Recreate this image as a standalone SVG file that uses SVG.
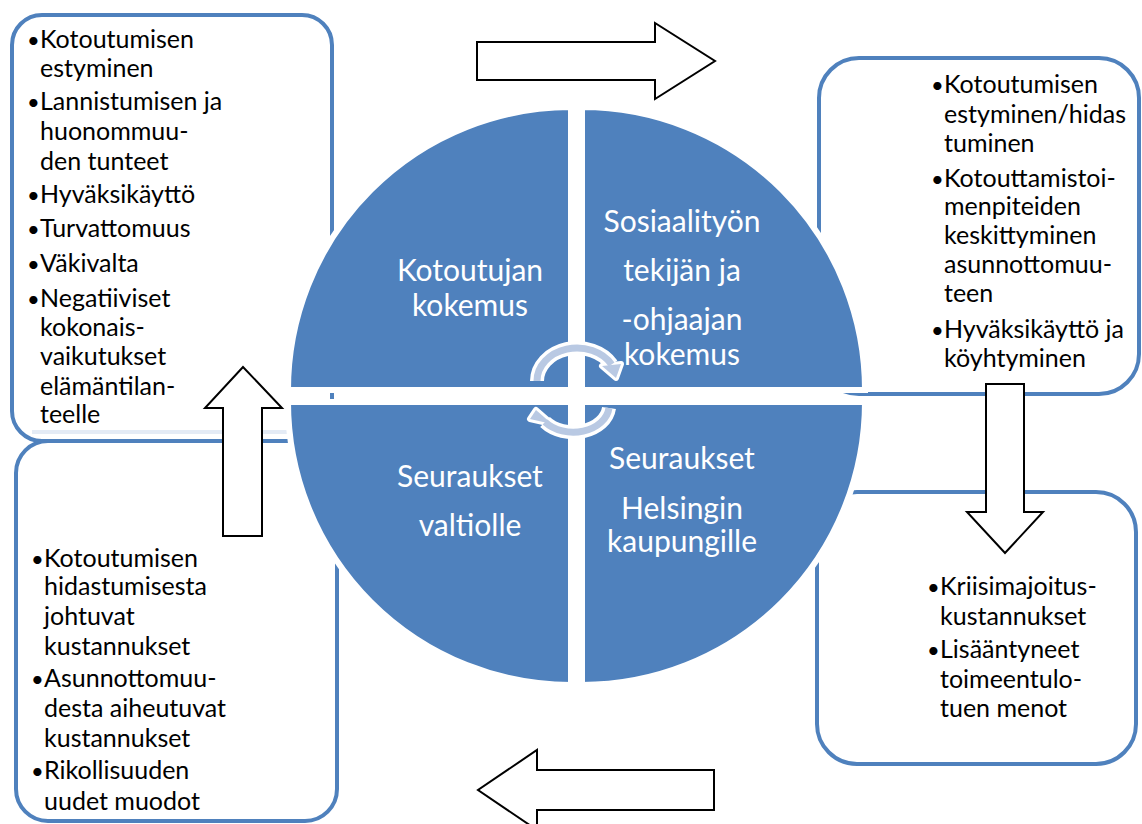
<svg xmlns="http://www.w3.org/2000/svg" width="1142" height="824" viewBox="0 0 1142 824">
<style>
.box{fill:#fff;stroke:#4F81BD;stroke-width:4}
.q{fill:#4F81BD;stroke:#fff;stroke-width:6}
.bt{font-family:Lato,"Open Sans",sans-serif;font-size:25px;fill:#000}
.b{font-size:22px}
.ct{font-family:Lato,"Open Sans",sans-serif;font-size:30px;fill:#fff;text-anchor:middle}
.blk{fill:#fff;stroke:#000;stroke-width:2;stroke-linejoin:miter}
.arcw{fill:none;stroke:#fff;stroke-width:14}
.arcp{fill:none;stroke:#B9C9E3;stroke-width:7}
.hw{fill:#fff;stroke:#fff;stroke-width:6;stroke-linejoin:round}
.hp{fill:#B9C9E3}
</style>
<rect width="1142" height="824" fill="#fff"/>
<g id="box-bl">
<rect class="box" x="16" y="441" width="321" height="380" rx="32"/>
<text class="bt" y="567"><tspan class="b" x="31">•</tspan><tspan x="44">Kotoutumisen</tspan></text>
<text class="bt" x="44" y="595">hidastumisesta</text>
<text class="bt" x="44" y="625">johtuvat</text>
<text class="bt" x="44" y="655">kustannukset</text>
<text class="bt" y="687"><tspan class="b" x="31">•</tspan><tspan x="44">Asunnottomuu-</tspan></text>
<text class="bt" x="44" y="717">desta aiheutuvat</text>
<text class="bt" x="44" y="747">kustannukset</text>
<text class="bt" y="779"><tspan class="b" x="31">•</tspan><tspan x="44">Rikollisuuden</tspan></text>
<text class="bt" x="44" y="810">uudet muodot</text>
</g>
<g id="box-tl">
<rect class="box" x="12" y="15" width="320" height="426" rx="30"/>
<line x1="32" y1="432" x2="288" y2="432" stroke="#E4EBF5" stroke-width="4"/>
<text class="bt" y="48"><tspan class="b" x="27">•</tspan><tspan x="40">Kotoutumisen</tspan></text>
<text class="bt" x="40" y="77">estyminen</text>
<text class="bt" y="110"><tspan class="b" x="27">•</tspan><tspan x="40">Lannistumisen ja</tspan></text>
<text class="bt" x="40" y="140">huonommuu-</text>
<text class="bt" x="40" y="170">den tunteet</text>
<text class="bt" y="203"><tspan class="b" x="27">•</tspan><tspan x="40">Hyväksikäyttö</tspan></text>
<text class="bt" y="237"><tspan class="b" x="27">•</tspan><tspan x="40">Turvattomuus</tspan></text>
<text class="bt" y="272"><tspan class="b" x="27">•</tspan><tspan x="40">Väkivalta</tspan></text>
<text class="bt" y="307"><tspan class="b" x="27">•</tspan><tspan x="40">Negatiiviset</tspan></text>
<text class="bt" x="40" y="336">kokonais-</text>
<text class="bt" x="40" y="365">vaikutukset</text>
<text class="bt" x="40" y="395">elämäntilan-</text>
<text class="bt" x="40" y="423">teelle</text>
</g>
<g id="box-tr">
<rect class="box" x="819" y="58" width="320" height="336" rx="40"/>
<text class="bt" y="93"><tspan class="b" x="931">•</tspan><tspan x="944">Kotoutumisen</tspan></text>
<text class="bt" x="944" y="123">estyminen/hidas</text>
<text class="bt" x="944" y="152">tuminen</text>
<text class="bt" y="187"><tspan class="b" x="931">•</tspan><tspan x="944">Kotouttamistoi-</tspan></text>
<text class="bt" x="944" y="215">menpiteiden</text>
<text class="bt" x="944" y="244">keskittyminen</text>
<text class="bt" x="944" y="273">asunnottomuu-</text>
<text class="bt" x="944" y="302">teen</text>
<text class="bt" y="338"><tspan class="b" x="931">•</tspan><tspan x="944">Hyväksikäyttö ja</tspan></text>
<text class="bt" x="944" y="367">köyhtyminen</text>
</g>
<g id="box-br">
<rect class="box" x="817" y="492" width="319" height="272" rx="40"/>
<text class="bt" y="595"><tspan class="b" x="927">•</tspan><tspan x="940">Kriisimajoitus-</tspan></text>
<text class="bt" x="940" y="625">kustannukset</text>
<text class="bt" y="658"><tspan class="b" x="927">•</tspan><tspan x="940">Lisääntyneet</tspan></text>
<text class="bt" x="940" y="688">toimeentulo-</text>
<text class="bt" x="940" y="717">tuen menot</text>
</g>
<g id="q-tl">
<path class="q" d="M571,390 L288,390 A283,283 0 0 1 571,107 Z"/>
<text class="ct" x="470" y="281">Kotoutujan</text>
<text class="ct" x="470" y="316">kokemus</text>
</g>
<g id="q-tr">
<path class="q" d="M582,390 L582,107 A283,283 0 0 1 865,390 Z"/>
<text class="ct" x="682" y="232">Sosiaalityön</text>
<text class="ct" x="682" y="281">tekijän ja</text>
<text class="ct" x="682" y="330">-ohjaajan</text>
<text class="ct" x="682" y="365">kokemus</text>
</g>
<g id="q-bl">
<path class="q" d="M571,402 L571,685 A283,283 0 0 1 288,402 Z"/>
<text class="ct" x="470" y="487">Seuraukset</text>
<text class="ct" x="470" y="536">valtiolle</text>
</g>
<g id="q-br">
<path class="q" d="M582,402 L865,402 A283,283 0 0 1 582,685 Z"/>
<text class="ct" x="682" y="469">Seuraukset</text>
<text class="ct" x="682" y="519">Helsingin</text>
<text class="ct" x="682" y="552">kaupungille</text>
</g>
<g id="connectors">
<polygon class="blk" points="477,42 655,42 655,23 715,61 655,99 655,80 477,80"/>
<polygon class="blk" points="986,384 1024,384 1024,512 1043,512 1005,553 967,512 986,512"/>
<polygon class="blk" points="714,770 714,810 537,810 537,830 478,790 537,750 537,770"/>
<polygon class="blk" points="223,536 223,408 205,408 243,367 282,408 262,408 262,536"/>
<g id="cycle-top">
<path class="arcw" d="M537,381 A40,33 0 0 1 611.6,364.5"/>
<polygon class="hw" points="602,366 621,364 616,378"/>
<path class="arcp" d="M537,381 A40,33 0 0 1 611.6,364.5"/>
<polygon class="hp" points="602,366 621,364 616,378"/>
</g>
<g id="cycle-bottom">
<path class="arcw" d="M609,408 A36,27 0 0 1 545,422"/>
<polygon class="hw" points="530,419 552,424 536,410"/>
<path class="arcp" d="M609,408 A36,27 0 0 1 545,422"/>
<polygon class="hp" points="530,419 552,424 536,410"/>
</g>
</g>
</svg>
